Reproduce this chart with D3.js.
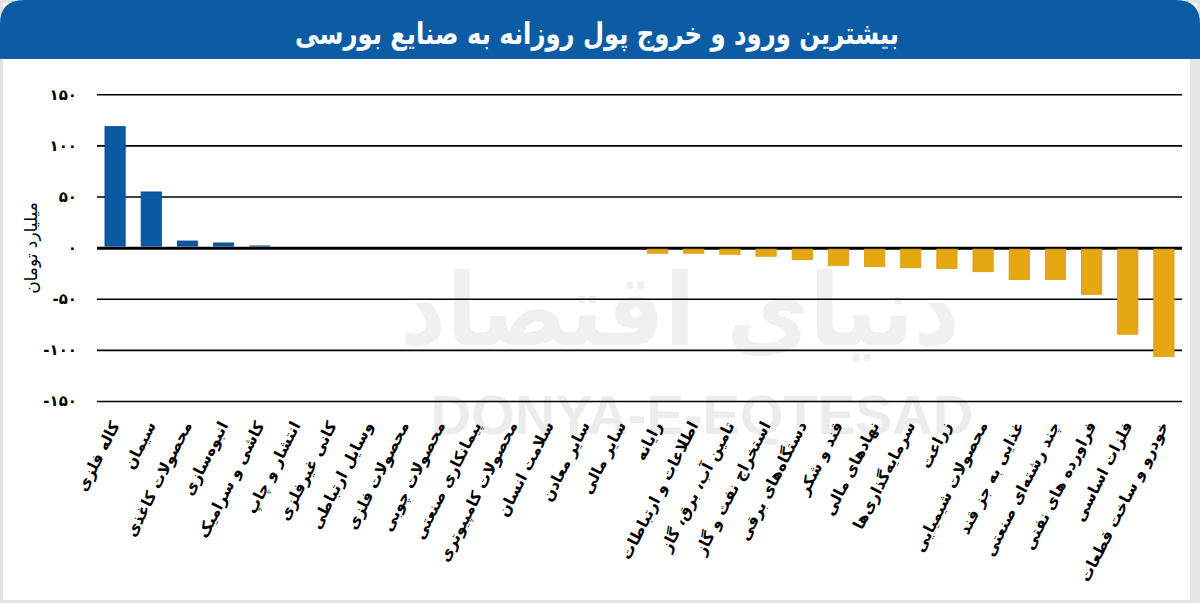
<!DOCTYPE html>
<html>
<head>
<meta charset="utf-8">
<script src="https://cdn.jsdelivr.net/npm/d3@7"></script>
<style>
  html, body { margin: 0; padding: 0; background: #fff; }
  svg { display: block; font-family: "DejaVu Sans", "Noto Sans", sans-serif; }
</style>
</head>
<body>
<svg id="chart" width="1200" height="603"></svg>
<script>
// ---- data ----
const titleText = "بیشترین ورود و خروج پول روزانه به صنایع بورسی";
const yAxisTitle = "میلیارد تومان";
const categories = [
  "کاله فلزی", "سیمان", "محصولات کاغذی", "انبوه‌سازی", "کاشی و سرامیک",
  "انتشار و چاپ", "کانی غیرفلزی", "وسایل ارتباطی", "محصولات فلزی", "محصولات چوبی",
  "پیمانکاری صنعتی", "محصولات کامپیوتری", "سلامت انسان", "سایر معادن", "سایر مالی",
  "رایانه", "اطلاعات و ارتباطات", "تامین آب، برق، گاز", "استخراج نفت و گاز", "دستگاه‌های برقی",
  "قند و شکر", "نهادهای مالی", "سرمایه‌گذاری‌ها", "زراعت", "محصولات شیمیایی",
  "غذایی به جز قند", "چند رشته‌ای صنعتی", "فراورده های نفتی", "فلزات اساسی", "خودرو و ساخت قطعات"
];
const values = [
  118.4, 54.5, 6.5, 4.6, 1.7,
  0.4, 0.3, 0.2, 0.1, 0.1,
  0, 0, 0, -0.1, -0.2,
  -5.5, -5.5, -6.5, -8.4, -11.7,
  -17.3, -18.6, -19.6, -20.5, -23.5,
  -31.3, -31.3, -45.6, -84.7, -106.6
];
const yTicks = [150, 100, 50, 0, -50, -100, -150];
const watermarkText = "DONYA-E-EQTESAD";
const watermarkLogo = "دنیای اقتصاد";

// ---- helpers ----
const faDigits = "۰۱۲۳۴۵۶۷۸۹";
const toFa = v => String(v).replace(/\d/g, d => faDigits[+d]);

const svg = d3.select("#chart");
const W = 1200, H = 603;

// frame
svg.append("rect").attr("x", 0).attr("y", 0).attr("width", W).attr("height", H).attr("fill", "#fff");
svg.append("rect").attr("x", 1.5).attr("y", 1.5).attr("width", W - 3).attr("height", H - 3)
  .attr("fill", "none").attr("stroke", "#e2e2e2").attr("stroke-width", 3);
svg.append("rect").attr("x", 1190).attr("y", 58).attr("width", 10).attr("height", H - 58).attr("fill", "#e6e6e6");

// header
const hdrH = 59, r = 24;
svg.append("path")
  .attr("d", `M0,${hdrH} L0,${r} Q0,0 ${r},0 L${W - r},0 Q${W},0 ${W},${r} L${W},${hdrH} Z`)
  .attr("fill", "#0c5ca5");
svg.append("text")
  .attr("x", 597).attr("y", 44)
  .attr("text-anchor", "middle")
  .attr("fill", "#fff")
  .attr("font-size", 30)
  .attr("font-weight", "bold")
  .attr("textLength", 604)
  .attr("lengthAdjust", "spacingAndGlyphs")
  .text(titleText);

// scales
const x = d3.scaleBand().domain(categories).range([97, 1182]).paddingInner(0.44).paddingOuter(0.22);
const y = d3.scaleLinear().domain([-150, 150]).range([401, 94.3]);

// watermark
svg.append("text")
  .attr("x", 680).attr("y", 345)
  .attr("text-anchor", "middle")
  .attr("fill", "#f0f0f0")
  .attr("font-size", 100)
  .attr("font-weight", "bold")
  .attr("textLength", 560)
  .attr("lengthAdjust", "spacingAndGlyphs")
  .text(watermarkLogo);
svg.append("text")
  .attr("x", 702).attr("y", 434)
  .attr("text-anchor", "middle")
  .attr("fill", "#ececec")
  .attr("font-size", 56)
  .attr("font-weight", "bold")
  .attr("font-family", "Liberation Sans, Arial, sans-serif")
  .text(watermarkText);

// y axis with gridlines
const yAxis = d3.axisLeft(y)
  .tickValues(yTicks)
  .tickSizeInner(-(1182 - 97))
  .tickSizeOuter(0)
  .tickPadding(20)
  .tickFormat(toFa);
const gy = svg.append("g").attr("transform", "translate(97,0)").call(yAxis);
gy.select(".domain").remove();
gy.selectAll(".tick line").attr("stroke", "#000").attr("stroke-width", 1.6)
  .filter(d => d === 0).attr("stroke-width", 3);
gy.selectAll(".tick text")
  .attr("fill", "#000")
  .attr("font-size", 15)
  .attr("font-weight", "bold")
  .attr("font-family", "DejaVu Sans, sans-serif");

// y axis title
svg.append("text")
  .attr("transform", "translate(37,248) rotate(-90)")
  .attr("text-anchor", "middle")
  .attr("font-size", 17)
  .attr("fill", "#000")
  .text(yAxisTitle);

// bars
const data = categories.map((c, i) => ({ c, v: values[i] }));
svg.append("g").selectAll("rect").data(data).join("rect")
  .attr("x", d => x(d.c))
  .attr("width", x.bandwidth())
  .attr("y", d => d.v >= 0 ? y(d.v) : y(0) + 1.5)
  .attr("height", d => d.v >= 0 ? Math.max(0, y(0) - 1.5 - y(d.v)) : Math.max(0, y(d.v) - y(0) - 1.5))
  .attr("fill", (d, i) => i < 15 ? "#0b58a3" : "#e6a812")
  .attr("stroke", (d, i) => i < 15 ? "#0a4c8f" : "#d69b0e")
  .attr("stroke-width", 0.8);

// category labels
svg.append("g").selectAll("text").data(categories).join("text")
  .attr("transform", d => `translate(${x(d) + x.bandwidth() / 2 + 5},${425}) rotate(-63)`)
  .attr("text-anchor", "end")
  .attr("font-size", 15.5)
  .attr("font-weight", "bold")
  .attr("fill", "#000")
  .text(d => d);
</script>
</body>
</html>
